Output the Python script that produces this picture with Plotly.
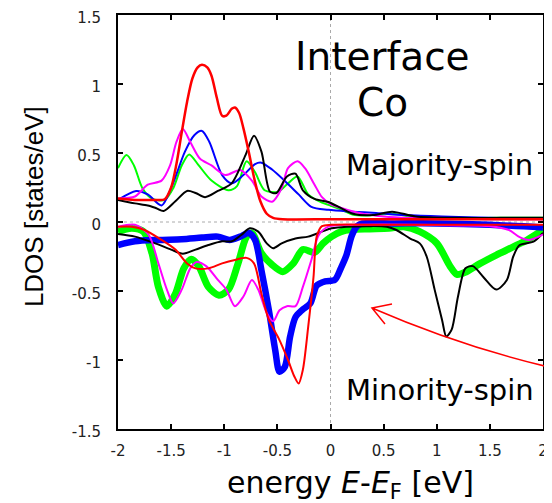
import plotly.graph_objects as go

# ---------------- data ----------------
# Majority-spin (positive LDOS)
red_up_x = [-2, -1.84, -1.66, -1.56, -1.50, -1.45, -1.40, -1.35, -1.30, -1.25, -1.21, -1.16, -1.12, -1.07,
            -1.02, -0.98, -0.93, -0.90, -0.86, -0.82, -0.77, -0.71, -0.66, -0.60, -0.54, -0.45, 0, 0.5, 1.0, 1.5, 2]
red_up_y = [0.17, 0.16, 0.16, 0.165, 0.25, 0.42, 0.65, 0.87, 1.04, 1.12, 1.14, 1.12, 1.06, 0.90,
            0.77, 0.77, 0.82, 0.83, 0.79, 0.68, 0.51, 0.29, 0.15, 0.06, 0.03, 0.02, 0.02, 0.02, 0.02, 0.02, 0.02]

black_up_x = [-2, -1.84, -1.72, -1.64, -1.57, -1.46, -1.35, -1.27, -1.18, -1.06, -0.93, -0.80, -0.72, -0.65,
              -0.57, -0.51, -0.41, -0.33, -0.26, -0.15, -0.02, 0.1, 0.21, 0.4, 0.58, 0.8, 1.2, 1.6, 2]
black_up_y = [0.16, 0.135, 0.12, 0.10, 0.08, 0.15, 0.225, 0.21, 0.18, 0.225, 0.28, 0.485, 0.625, 0.51,
              0.22, 0.21, 0.33, 0.35, 0.23, 0.167, 0.145, 0.10, 0.06, 0.05, 0.075, 0.04, 0.03, 0.03, 0.03]

magenta_up_x = [-2, -1.84, -1.72, -1.59, -1.51, -1.45, -1.39, -1.32, -1.23, -1.12, -0.99, -0.85, -0.74,
                -0.65, -0.55, -0.46, -0.40, -0.31, -0.24, -0.15, -0.08, 0.0, 0.11, 0.27, 0.5, 0.74, 1.0, 1.5, 2]
magenta_up_y = [0.17, 0.185, 0.27, 0.30, 0.41, 0.58, 0.674, 0.58, 0.46, 0.41, 0.34, 0.377, 0.30,
                0.185, 0.147, 0.245, 0.39, 0.44, 0.39, 0.27, 0.18, 0.13, 0.10, 0.065, 0.04, 0.03, 0.03, 0.02, 0.02]

green_up_x = [-2, -1.92, -1.85, -1.77, -1.68, -1.56, -1.48, -1.40, -1.33, -1.24, -1.12, -0.96, -0.88, -0.79,
              -0.71, -0.62, -0.49, -0.40, -0.31, -0.21, -0.08, 0.0, 0.1, 0.23, 0.4, 0.58, 0.8, 1.2, 1.6, 2]
green_up_y = [0.39, 0.485, 0.41, 0.245, 0.17, 0.16, 0.245, 0.41, 0.49, 0.41, 0.30, 0.23, 0.26, 0.44,
              0.36, 0.23, 0.22, 0.28, 0.33, 0.20, 0.14, 0.12, 0.09, 0.05, 0.05, 0.06, 0.035, 0.03, 0.03, 0.03]

blue_up_x = [-2, -1.83, -1.72, -1.59, -1.50, -1.37, -1.28, -1.21, -1.14, -1.02, -0.93, -0.82, -0.71, -0.65,
             -0.55, -0.42, -0.30, -0.18, -0.02, 0.2, 0.43, 0.7, 1.05, 1.5, 2]
blue_up_y = [0.16, 0.225, 0.20, 0.12, 0.245, 0.51, 0.63, 0.66, 0.58, 0.34, 0.28, 0.34, 0.42, 0.43,
             0.38, 0.29, 0.20, 0.11, 0.088, 0.075, 0.065, 0.05, 0.04, 0.03, 0.02]

# Minority-spin (negative LDOS)
green_dn_x = [-2, -1.87, -1.76, -1.68, -1.62, -1.54, -1.46, -1.38, -1.31, -1.24, -1.15, -1.05, -0.96, -0.87,
              -0.79, -0.74, -0.65, -0.55, -0.45, -0.35, -0.26, -0.15, -0.07, 0.01, 0.1, 0.2, 0.37, 0.55,
              0.69, 0.84, 1.0, 1.125, 1.19, 1.28, 1.41, 1.56, 1.72, 1.85, 2.0]
green_dn_y = [-0.07, -0.045, -0.07, -0.227, -0.47, -0.61, -0.52, -0.335, -0.27, -0.32, -0.47, -0.53, -0.49, -0.30,
              -0.106, -0.08, -0.227, -0.31, -0.36, -0.30, -0.20, -0.22, -0.155, -0.106, -0.07, -0.055, -0.05, -0.045,
              -0.035, -0.07, -0.154, -0.32, -0.38, -0.36, -0.30, -0.24, -0.18, -0.13, -0.058]

blue_dn_x = [-2, -1.84, -1.62, -1.40, -1.21, -1.06, -0.95, -0.85, -0.77, -0.71, -0.65, -0.58, -0.52, -0.48,
             -0.43, -0.38, -0.33, -0.27, -0.19, -0.13, -0.05, 0.04, 0.1, 0.15, 0.2, 0.25, 0.3, 0.6, 1.0, 1.5, 2.0]
blue_dn_y = [-0.167, -0.14, -0.13, -0.125, -0.113, -0.106, -0.13, -0.106, -0.08, -0.13, -0.35, -0.64, -0.93, -1.085,
             -1.05, -0.83, -0.69, -0.64, -0.59, -0.46, -0.43, -0.42, -0.33, -0.24, -0.10, -0.03, -0.01, -0.01, -0.01, -0.02, -0.04]

red_dn_x = [-2, -1.87, -1.75, -1.59, -1.46, -1.35, -1.27, -1.15, -1.02, -0.90, -0.79, -0.72, -0.65, -0.58,
            -0.49, -0.40, -0.34, -0.30, -0.26, -0.21, -0.16, -0.13, -0.08, 0.01, 0.5, 1.0, 1.5, 2.0]
red_dn_y = [-0.034, -0.034, -0.058, -0.13, -0.20, -0.30, -0.336, -0.336, -0.30, -0.275, -0.26, -0.30, -0.52, -0.71,
            -0.84, -1.0, -1.12, -1.17, -1.07, -0.76, -0.40, -0.106, -0.03, -0.02, -0.02, -0.02, -0.02, -0.02]

magenta_dn_x = [-2, -1.84, -1.71, -1.62, -1.54, -1.48, -1.40, -1.32, -1.26, -1.17, -1.06, -0.98, -0.90, -0.82,
                -0.74, -0.68, -0.60, -0.54, -0.48, -0.41, -0.33, -0.26, -0.18, -0.11, -0.02, 0.3, 0.8, 1.2,
                1.5, 1.68, 1.78, 1.87, 1.95, 2.0]
magenta_dn_y = [-0.034, -0.02, -0.094, -0.30, -0.49, -0.59, -0.49, -0.336, -0.29, -0.32, -0.42, -0.49, -0.61, -0.54,
                -0.42, -0.49, -0.66, -0.72, -0.64, -0.61, -0.61, -0.47, -0.275, -0.094, -0.034, -0.02, -0.02, -0.025,
                -0.03, -0.058, -0.11, -0.13, -0.11, -0.09]

black_dn_x = [-2, -1.84, -1.65, -1.50, -1.39, -1.27, -1.15, -1.02, -0.93, -0.84, -0.76, -0.68, -0.60, -0.54,
              -0.46, -0.33, -0.21, -0.08, 0.01, 0.15, 0.35, 0.53, 0.62, 0.75, 0.84, 0.905, 0.98, 1.05, 1.09,
              1.14, 1.20, 1.27, 1.34, 1.44, 1.56, 1.66, 1.72, 1.78, 1.91, 2.0]
black_dn_y = [-0.087, -0.106, -0.155, -0.20, -0.23, -0.20, -0.167, -0.14, -0.14, -0.094, -0.046, -0.07, -0.155, -0.19,
              -0.155, -0.12, -0.106, -0.07, -0.046, -0.034, -0.03, -0.034, -0.058, -0.12, -0.155, -0.25, -0.49, -0.71, -0.83,
              -0.78, -0.54, -0.335, -0.32, -0.40, -0.49, -0.42, -0.25, -0.167, -0.143, -0.08]

x_tick_vals = [-2, -1.5, -1, -0.5, 0, 0.5, 1, 1.5, 2]
x_tick_text = ["-2", "-1.5", "-1", "-0.5", "0", "0.5", "1", "1.5", "2"]
y_tick_vals = [-1.5, -1, -0.5, 0, 0.5, 1, 1.5]
y_tick_text = ["-1.5", "-1", "-0.5", "0", "0.5", "1", "1.5"]

# ---------------- figure ----------------
fig = go.Figure()

series = [
    (green_dn_x, green_dn_y, "#00ff00", 7),
    (blue_dn_x, blue_dn_y, "#0000ff", 6.5),
    (black_dn_x, black_dn_y, "#000000", 2),
    (magenta_dn_x, magenta_dn_y, "#ff00ff", 2),
    (red_dn_x, red_dn_y, "#ff0000", 2),
    (green_up_x, green_up_y, "#00ff00", 2),
    (blue_up_x, blue_up_y, "#0000ff", 2),
    (magenta_up_x, magenta_up_y, "#ff00ff", 2),
    (black_up_x, black_up_y, "#000000", 2),
    (red_up_x, red_up_y, "#ff0000", 2.5),
]
for xs, ys, col, w in series:
    fig.add_trace(go.Scatter(x=xs, y=ys, mode="lines",
                             line=dict(color=col, width=w, shape="spline", smoothing=0.8),
                             showlegend=False, hoverinfo="skip"))

# zero reference lines (dotted)
fig.add_shape(type="line", xref="x", yref="y", x0=-2, x1=2, y0=0, y1=0,
              line=dict(color="#aaaaaa", width=1, dash="dot"), layer="below")
fig.add_shape(type="line", xref="x", yref="y", x0=0, x1=0, y0=-1.5, y1=1.5,
              line=dict(color="#aaaaaa", width=1, dash="dot"), layer="below")

# red curved arrow (paper coords)
fig.add_shape(type="path", xref="paper", yref="paper",
              path="M 1.0235 0.1473 Q 0.8094 0.1981 0.5976 0.2923 "
                   "M 0.6447 0.3019 L 0.5976 0.2923 L 0.6282 0.2536",
              line=dict(color="#ff0000", width=1.5))

txt_font = "DejaVu Sans"
ann = [
    dict(text="Interface", x=0.6235, y=0.900, size=39),
    dict(text="Co", x=0.6235, y=0.7875, size=39),
    dict(text="Majority-spin", x=0.7576, y=0.637, size=29),
    dict(text="Minority-spin", x=0.7576, y=0.095, size=29),
]
for a in ann:
    fig.add_annotation(text=a["text"], x=a["x"], y=a["y"], xref="paper", yref="paper",
                       xanchor="center", yanchor="middle", showarrow=False,
                       font=dict(family=txt_font, size=a["size"], color="black"))

fig.add_annotation(text="energy <i>E</i>-<i>E</i><sub>F</sub> [eV]", x=0.5459, y=-0.1860,
                   xref="paper", yref="paper", xanchor="center", yanchor="bottom", showarrow=False,
                   font=dict(family=txt_font, size=30, color="black"))
fig.add_annotation(text="LDOS [states/eV]", x=-0.1976, y=0.536, textangle=-90,
                   xref="paper", yref="paper", xanchor="center", yanchor="middle", showarrow=False,
                   font=dict(family="Liberation Sans", size=26, color="black"))

axis_common = dict(showline=True, linecolor="black", linewidth=2, mirror="allticks",
                   ticks="inside", ticklen=5, tickwidth=1.5, tickcolor="black",
                   showgrid=False, zeroline=False, automargin=False, ticklabeloverflow="allow",
                   tickfont=dict(family=txt_font, size=15, color="#222222"))

fig.update_xaxes(range=[-2, 2], tickmode="array", tickvals=x_tick_vals, ticktext=x_tick_text,
                 ticklabelstandoff=7, **axis_common)
fig.update_yaxes(range=[-1.5, 1.5], tickmode="array", tickvals=y_tick_vals, ticktext=y_tick_text,
                 ticklabelstandoff=12, ticklabelshift=3, **axis_common)

# the page body adds an 8 px offset, so the figure is 8 px smaller and margins shifted
fig.update_layout(width=544, height=495, margin=dict(l=110, r=9, t=7, b=74, autoexpand=False),
                  paper_bgcolor="white", plot_bgcolor="white")

fig.write_html("out.html")
